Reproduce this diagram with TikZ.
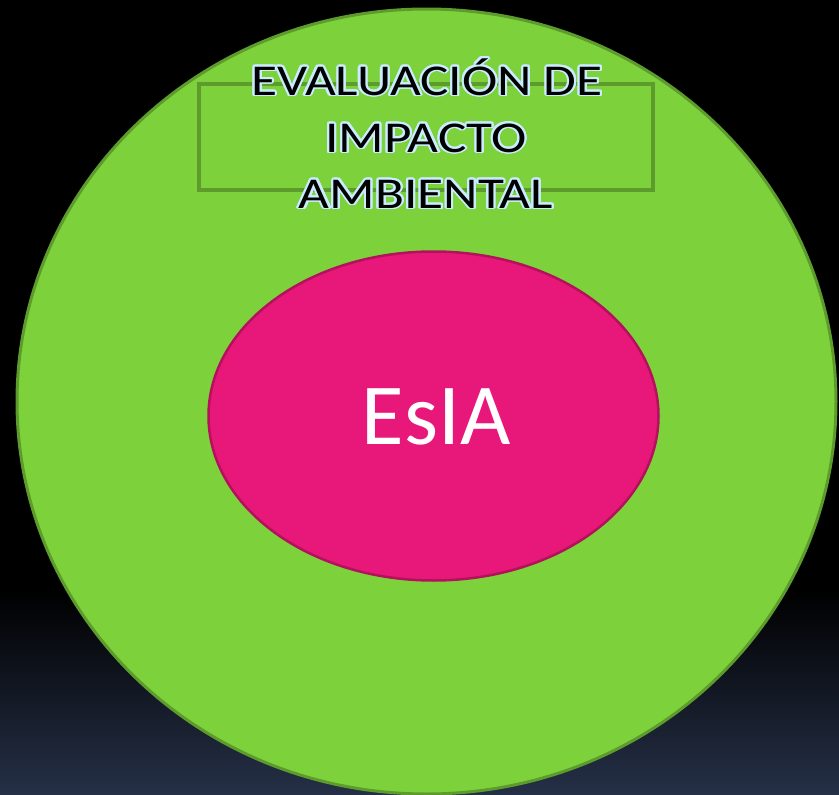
\documentclass[tikz,border=0pt]{standalone}
\usepackage{fontspec}
\setmainfont{Carlito}
\usepackage[copies]{contour}
\contourlength{1.7pt}
\contournumber{24}
\definecolor{bgbottom}{HTML}{253047}
\definecolor{leaf}{HTML}{7DD23B}
\definecolor{leafdark}{HTML}{5C9B2C}
\definecolor{rose}{HTML}{E8177A}
\definecolor{rosedark}{HTML}{B3115C}
\definecolor{glow}{HTML}{C9EDFF}
\tikzset{
  outer/.style={fill=leaf, draw=leafdark, line width=3pt},
  inner/.style={fill=rose, draw=rosedark, line width=2.5pt},
  framebox/.style={draw=leafdark, line width=3.5pt},
  titleline/.style={anchor=base, inner sep=0pt, font=\fontsize{44}{56}\selectfont},
  bigtext/.style={anchor=base, inner sep=0pt, text=white, font=\fontsize{87}{100}\selectfont}
}
\newcommand{\glowtext}[1]{\scalebox{1.21}[1]{\contour{glow}{\textcolor{black}{#1}}}}
\begin{document}
\begin{tikzpicture}[x=1pt,y=-1pt]
\useasboundingbox (0,0) rectangle (839,795);
\fill[black] (0,0) rectangle (839,592);
\shade[top color=black, bottom color=bgbottom] (0,590) rectangle (839,795);
\path[outer] (426.5,401.5) ellipse [x radius=409.5, y radius=392.5];
\path[framebox] (199,84) rectangle (653,190);
\path[inner] (433.5,416) ellipse [x radius=225, y radius=164.5];
\node[titleline] (t1) at (427,95) {\glowtext{EVALUACIÓN DE}};
\node[titleline] (t2) at (426,152) {\glowtext{IMPACTO}};
\node[titleline] (t3) at (426,208) {\glowtext{AMBIENTAL}};
\node[bigtext] (esia) at (436,444) {EsIA};
\end{tikzpicture}
\end{document}
